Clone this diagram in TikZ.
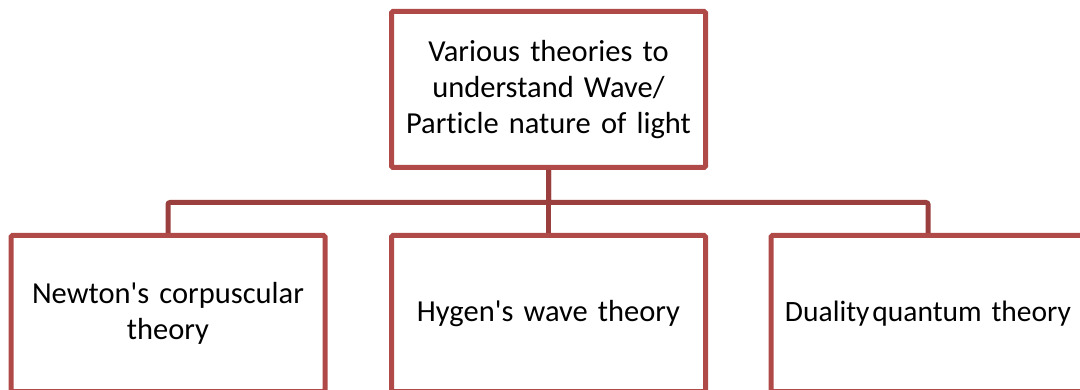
\documentclass[tikz,border=0pt]{standalone}
\usepackage{fontspec}
\setmainfont{Carlito}[Ligatures={NoCommon}]
\definecolor{boxred}{RGB}{176,74,72}
\definecolor{linered}{RGB}{155,62,62}
\begin{document}
\begin{tikzpicture}[x=1pt,y=-1pt,
  box/.style={draw=boxred,line width=5pt,fill=white,rounded corners=1.5pt,
    minimum width=314pt,minimum height=156pt,inner sep=0pt,align=center,
    text width=310pt,font=\fontsize{30.5}{36}\selectfont},
  conn/.style={draw=linered,line width=5pt,rounded corners=2pt}]
\useasboundingbox (0,0) rectangle (1080,390);
\clip (0,0) rectangle (1080,390);
\fill[white] (0,0) rectangle (1080,390);
\node[box] (top) at (548.5,89.5) {Various theories to\\understand Wave/\\Particle nature of light};
\node[box] (left) at (168,313.5) {Newton\textquotesingle s corpuscular\\theory};
\node[box] (mid) at (548.5,313.5) {Hygen\textquotesingle s wave theory};
\node[box,font=\fontsize{29.5}{36}\selectfont] (right) at (928,313.5) {Duality\hspace{0.1em}quantum theory};
\draw[conn] (top.south) -- ++(0,32.5) -| (left.north);
\draw[conn] (top.south) -- ++(0,32.5) -| (right.north);
\draw[conn] (top.south) -- (mid.north);
\end{tikzpicture}
\end{document}
